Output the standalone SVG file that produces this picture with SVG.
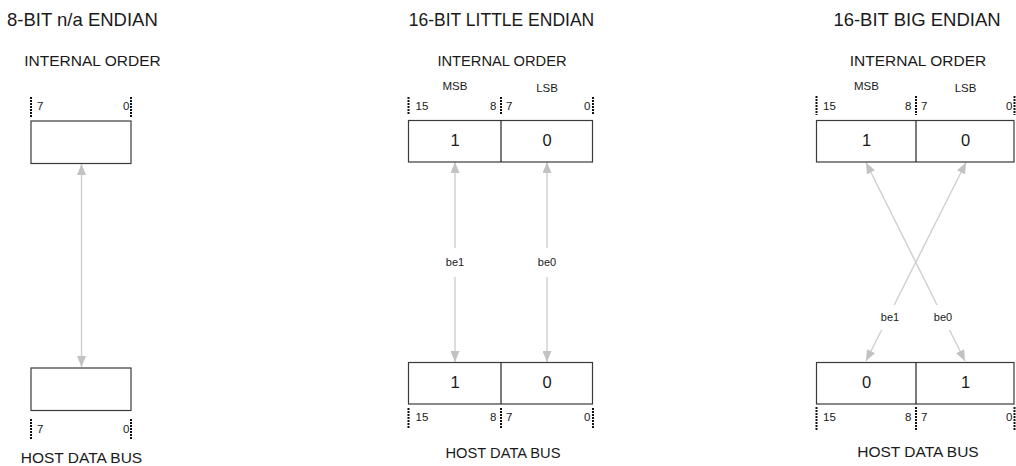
<svg xmlns="http://www.w3.org/2000/svg" width="1016" height="466" viewBox="0 0 1016 466">
<defs>
<style>
text{font-family:"Liberation Sans",Arial,sans-serif;fill:#1a1a1a}
.title{font-size:18.5px}
.sub{font-size:15.5px;text-anchor:middle}
.sb{font-size:11.5px;text-anchor:middle}
.bit{font-size:11.5px}
.bitr{font-size:11.5px;text-anchor:end}
.cell{font-size:16.5px;text-anchor:middle}
.lbl{font-size:11px;text-anchor:middle}
.box{fill:#fff;stroke:#3a3a3a;stroke-width:1.2}
.div{stroke:#222;stroke-width:1.2}
.tick{stroke:#111;stroke-width:2;stroke-dasharray:2 1}
.conn{stroke:#cfcfcf;stroke-width:1.4;fill:none;marker-start:url(#ah);marker-end:url(#ah)}
.bg{fill:#fff}
</style>
<marker id="ah" markerUnits="userSpaceOnUse" markerWidth="11" markerHeight="9" refX="11" refY="4.5" orient="auto-start-reverse" viewBox="0 0 11 9">
<path d="M0,0 L11,4.5 L0,9 z" fill="#c2c2c2"/>
</marker>
</defs>
<rect width="1016" height="466" fill="#fff"/>

<!-- connectors -->
<g id="connectors">
<line class="conn" x1="81.5" y1="164" x2="81.5" y2="367"/>
<line class="conn" x1="455" y1="162" x2="455" y2="362"/>
<line class="conn" x1="547" y1="162" x2="547" y2="362"/>
<line class="conn" x1="866" y1="162.5" x2="965" y2="361"/>
<line class="conn" x1="966" y1="162.5" x2="866" y2="361"/>
<rect class="bg" x="444" y="248" width="22" height="29"/>
<text class="lbl" x="455" y="265.5">be1</text>
<rect class="bg" x="536" y="248" width="22" height="29"/>
<text class="lbl" x="547" y="265.5">be0</text>
<rect class="bg" x="879" y="305" width="22" height="25"/>
<text class="lbl" x="890" y="320.5">be1</text>
<rect class="bg" x="932" y="305" width="22" height="25"/>
<text class="lbl" x="943" y="320.5">be0</text>
</g>

<!-- 8-bit section -->
<g id="sec8">
<text class="title" x="7" y="26">8-BIT n/a ENDIAN</text>
<text class="sub" x="92.5" y="66">INTERNAL ORDER</text>
</g>
<g id="n8-internal">
<line class="tick" x1="31" y1="97" x2="31" y2="117"/>
<line class="tick" x1="131" y1="97" x2="131" y2="117"/>
<text class="bit" x="37" y="110">7</text>
<text class="bitr" x="129.5" y="110">0</text>
<rect class="box" x="31" y="121" width="100" height="42.5"/>
</g>
<g id="n8-host">
<rect class="box" x="31" y="368" width="100" height="42.5"/>
<line class="tick" x1="31" y1="419" x2="31" y2="439"/>
<line class="tick" x1="131" y1="419" x2="131" y2="439"/>
<text class="bit" x="37" y="432.5">7</text>
<text class="bitr" x="129.5" y="432.5">0</text>
<text class="sub" x="81.5" y="462.5">HOST DATA BUS</text>
</g>

<!-- 16-bit little endian -->
<g id="secLE">
<text class="title" x="501.5" y="26" text-anchor="middle" style="font-size:17.5px">16-BIT LITTLE ENDIAN</text>
<text class="sub" x="502" y="66" style="font-size:14.7px">INTERNAL ORDER</text>
</g>
<g id="nLE-internal">
<text class="sb" x="455" y="90">MSB</text>
<text class="sb" x="547" y="92">LSB</text>
<line class="tick" x1="408.5" y1="97" x2="408.5" y2="115"/>
<line class="tick" x1="501" y1="97" x2="501" y2="115"/>
<line class="tick" x1="593" y1="97" x2="593" y2="115"/>
<text class="bit" x="415.5" y="110">15</text>
<text class="bitr" x="496.5" y="110">8</text>
<text class="bit" x="506" y="110">7</text>
<text class="bitr" x="590.5" y="110">0</text>
<rect class="box" x="408.5" y="120.5" width="184" height="41.5"/>
<line class="div" x1="501" y1="120.5" x2="501" y2="162"/>
<text class="cell" x="455" y="145.5">1</text>
<text class="cell" x="547" y="145.5">0</text>
</g>
<g id="nLE-host">
<rect class="box" x="408.5" y="362.5" width="184" height="41.5"/>
<line class="div" x1="501" y1="362.5" x2="501" y2="404"/>
<text class="cell" x="455" y="388">1</text>
<text class="cell" x="547" y="388">0</text>
<line class="tick" x1="408.5" y1="408" x2="408.5" y2="428"/>
<line class="tick" x1="501" y1="408" x2="501" y2="428"/>
<line class="tick" x1="593" y1="408" x2="593" y2="428"/>
<text class="bit" x="415.5" y="421">15</text>
<text class="bitr" x="496.5" y="421">8</text>
<text class="bit" x="506" y="421">7</text>
<text class="bitr" x="590.5" y="421">0</text>
<text class="sub" x="503" y="458" style="font-size:14.7px">HOST DATA BUS</text>
</g>

<!-- 16-bit big endian -->
<g id="secBE">
<text class="title" x="917" y="26" text-anchor="middle">16-BIT BIG ENDIAN</text>
<text class="sub" x="918" y="66">INTERNAL ORDER</text>
</g>
<g id="nBE-internal">
<text class="sb" x="866.5" y="90">MSB</text>
<text class="sb" x="965.5" y="92">LSB</text>
<line class="tick" x1="816.5" y1="96" x2="816.5" y2="115"/>
<line class="tick" x1="916" y1="96" x2="916" y2="115"/>
<line class="tick" x1="1014.5" y1="96" x2="1014.5" y2="115"/>
<text class="bit" x="823" y="110">15</text>
<text class="bitr" x="911.5" y="110">8</text>
<text class="bit" x="921" y="110">7</text>
<text class="bitr" x="1012.5" y="110">0</text>
<rect class="box" x="816.5" y="120.5" width="197.5" height="41.5"/>
<line class="div" x1="916" y1="120.5" x2="916" y2="162"/>
<text class="cell" x="866.5" y="145.5">1</text>
<text class="cell" x="965.5" y="145.5">0</text>
</g>
<g id="nBE-host">
<rect class="box" x="816.5" y="362.5" width="197.5" height="41.5"/>
<line class="div" x1="916" y1="362.5" x2="916" y2="404"/>
<text class="cell" x="866.5" y="388">0</text>
<text class="cell" x="965.5" y="388">1</text>
<line class="tick" x1="816.5" y1="407" x2="816.5" y2="430"/>
<line class="tick" x1="916" y1="407" x2="916" y2="430"/>
<line class="tick" x1="1014.5" y1="407" x2="1014.5" y2="430"/>
<text class="bit" x="823" y="421">15</text>
<text class="bitr" x="911.5" y="421">8</text>
<text class="bit" x="921" y="421">7</text>
<text class="bitr" x="1012.5" y="421">0</text>
<text class="sub" x="918" y="457">HOST DATA BUS</text>
</g>
</svg>
